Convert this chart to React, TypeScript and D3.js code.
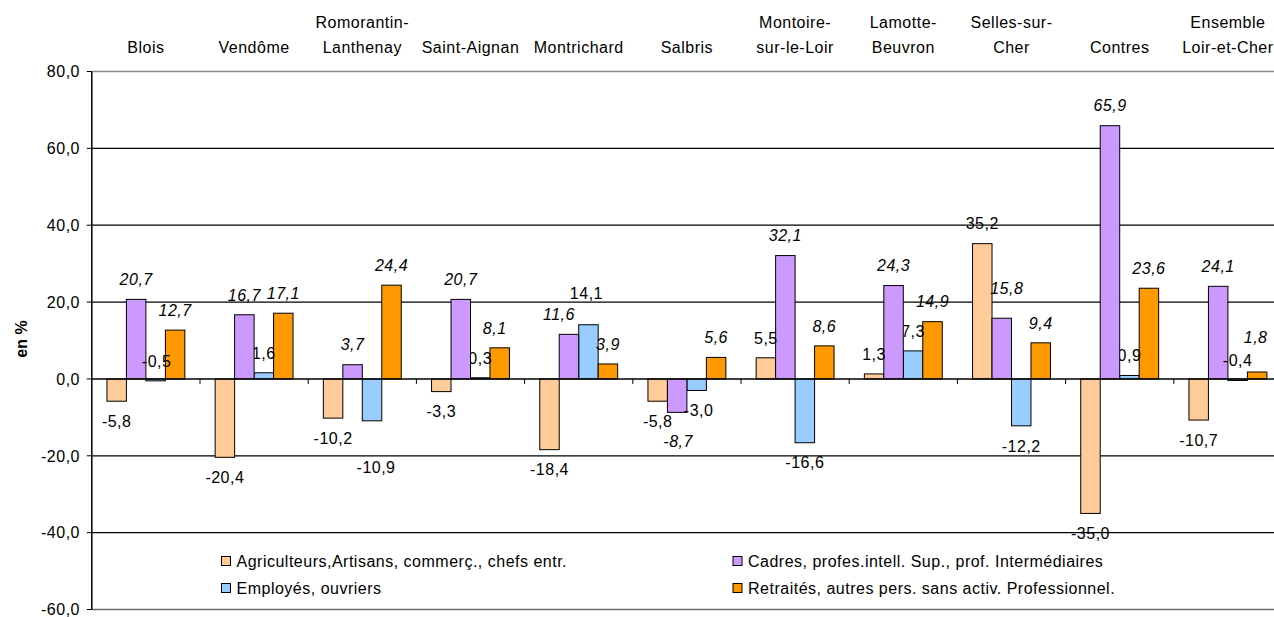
import React from "react";
import * as d3 from "d3";

const categories: string[] = [
  "Blois",
  "Vendôme",
  "Romorantin-\nLanthenay",
  "Saint-Aignan",
  "Montrichard",
  "Salbris",
  "Montoire-\nsur-le-Loir",
  "Lamotte-\nBeuvron",
  "Selles-sur-\nCher",
  "Contres",
  "Ensemble\nLoir-et-Cher",
];

const seriesNames: string[] = [
  "Agriculteurs,Artisans, commerç., chefs entr.",
  "Cadres, profes.intell. Sup., prof. Intermédiaires",
  "Employés, ouvriers",
  "Retraités, autres pers. sans activ. Professionnel.",
];

const agriculteurs: number[] = [-5.8, -20.4, -10.2, -3.3, -18.4, -5.8, 5.5, 1.3, 35.2, -35.0, -10.7];
const cadres: number[] = [20.7, 16.7, 3.7, 20.7, 11.6, -8.7, 32.1, 24.3, 15.8, 65.9, 24.1];
const employes: number[] = [-0.5, 1.6, -10.9, 0.3, 14.1, -3.0, -16.6, 7.3, -12.2, 0.9, -0.4];
const retraites: number[] = [12.7, 17.1, 24.4, 8.1, 3.9, 5.6, 8.6, 14.9, 9.4, 23.6, 1.8];

const yTicks: number[] = [80, 60, 40, 20, 0, -20, -40, -60];

const seriesColors = ["#FFCC99", "#CC99FF", "#99CCFF", "#FF9900"];
const seriesItalic = [false, true, false, true];

// manual label nudges [dx, dy] keyed "categoryIndex|seriesIndex"
const labelNudges: Record<string, [number, number]> = {
  "0|2": [1, -40],
  "2|2": [4, 26],
  "3|3": [-5, 0],
  "4|1": [-10, 0],
  "4|2": [-2, -12],
  "5|1": [1, 9],
  "5|2": [2, 0],
  "8|1": [5, -10],
  "10|2": [0, -40],
  "10|3": [-1.5, -15],
};

const FONT = "'Liberation Sans', Arial, Helvetica, sans-serif";

export default function App() {
  const W = 1274;
  const H = 617;
  const left = 91.8;
  const step = 108.2;
  const right = left + step * categories.length;
  const top = 71.5;
  const bottom = 609.5;

  const values = [agriculteurs, cadres, employes, retraites];

  const x = d3
    .scaleBand<number>()
    .domain(d3.range(categories.length))
    .range([left, right])
    .paddingInner(0.28)
    .paddingOuter(0.14);
  const xs = d3
    .scaleBand<number>()
    .domain(d3.range(4))
    .range([0, x.bandwidth()])
    .padding(0);
  const y = d3.scaleLinear().domain([-60, 80]).range([bottom, top]);

  const fmt = (v: number) => v.toFixed(1).replace(".", ",");

  const bars = (s: number) =>
    values[s].map((v, i) => {
      const bx = (x(i) as number) + (xs(s) as number);
      const y0 = y(0);
      const y1 = y(v);
      return (
        <rect
          key={`b${s}-${i}`}
          x={bx}
          y={Math.min(y0, y1)}
          width={xs.bandwidth()}
          height={Math.max(Math.abs(y1 - y0), 1)}
          fill={seriesColors[s]}
          stroke="#000"
          strokeWidth={1}
        />
      );
    });

  const labels = (s: number, filter: (v: number) => boolean = () => true) =>
    values[s].map((v, i) => {
      if (!filter(v)) return null;
      const cx = (x(i) as number) + (xs(s) as number) + xs.bandwidth() / 2;
      const cy = v >= 0 ? y(v) - 20 : y(v) + 20;
      const n = labelNudges[`${i}|${s}`] || [0, 0];
      return (
        <text
          key={`l${s}-${i}`}
          x={cx + n[0]}
          y={cy + n[1]}
          dy="0.36em"
          textAnchor="middle"
          fontStyle={seriesItalic[s] ? "italic" : "normal"}
        >
          {fmt(v)}
        </text>
      );
    });

  const catTicks = d3.range(1, categories.length).map((i) => left + i * step);

  const legendItems = [
    { s: 0, x: 221.5, y: 561 },
    { s: 1, x: 733, y: 561 },
    { s: 2, x: 221.5, y: 588 },
    { s: 3, x: 733, y: 588 },
  ];

  return (
    <svg
      width={W}
      height={H}
      style={{ position: "absolute", left: 0, top: 0, background: "#fff" }}
      fontFamily={FONT}
      fontSize={16}
      letterSpacing={0.5}
    >
      <rect x={0} y={0} width={W} height={H} fill="#fff" />
      {/* gridlines */}
      {yTicks
        .filter((t) => t !== 0 && t !== 80 && t !== -60)
        .map((t) => (
          <line key={`g${t}`} x1={left} x2={right} y1={y(t)} y2={y(t)} stroke="#000" strokeWidth={1.2} />
        ))}
      <line x1={left} x2={right} y1={y(80)} y2={y(80)} stroke="#8a8a8a" strokeWidth={1.5} />
      <line x1={left} x2={right} y1={y(-60)} y2={y(-60)} stroke="#6a6a6a" strokeWidth={1.5} />

      {/* y axis */}
      <line x1={left} x2={left} y1={top} y2={bottom} stroke="#000" strokeWidth={1.5} />
      {yTicks.map((t) => (
        <g key={`yt${t}`}>
          <line x1={left - 5} x2={left} y1={y(t)} y2={y(t)} stroke="#000" strokeWidth={1} />
          <text x={80} y={y(t)} dy="0.36em" textAnchor="end">
            {t.toFixed(1).replace(".", ",")}
          </text>
        </g>
      ))}
      <text
        transform={`translate(21,339) rotate(-90)`}
        textAnchor="middle"
        dy="0.36em"
        fontWeight="bold"
        letterSpacing={0}
      >
        en %
      </text>

      {/* category labels */}
      {categories.map((c, i) => {
        const lines = c.split("\n");
        const cx = (x(i) as number) + x.bandwidth() / 2;
        return (
          <text key={`c${i}`} x={cx} textAnchor="middle">
            {lines.map((ln, k) => (
              <tspan key={k} x={cx} y={52.5 - (lines.length - 1 - k) * 25}>
                {ln}
              </tspan>
            ))}
          </text>
        );
      })}

      {/* bars & labels */}
      {bars(0)}
      {bars(2)}
      {bars(3)}
      {labels(2, (v) => v >= 0)}
      {bars(1)}

      {/* x axis */}
      <line x1={left} x2={right} y1={y(0)} y2={y(0)} stroke="#000" strokeWidth={1.5} />
      {catTicks.map((t, i) => (
        <line key={`xt${i}`} x1={t} x2={t} y1={y(0)} y2={y(0) + 5} stroke="#000" strokeWidth={1} />
      ))}

      {labels(2, (v) => v < 0)}
      {labels(0)}
      {labels(1)}
      {labels(3)}

      {/* legend */}
      {legendItems.map((it) => (
        <g key={`lg${it.s}`}>
          <rect
            x={it.x}
            y={it.y - 4.5}
            width={9}
            height={9}
            fill={seriesColors[it.s]}
            stroke="#000"
            strokeWidth={1}
          />
          <text x={it.x + 15} y={it.y} dy="0.36em">
            {seriesNames[it.s]}
          </text>
        </g>
      ))}
    </svg>
  );
}
